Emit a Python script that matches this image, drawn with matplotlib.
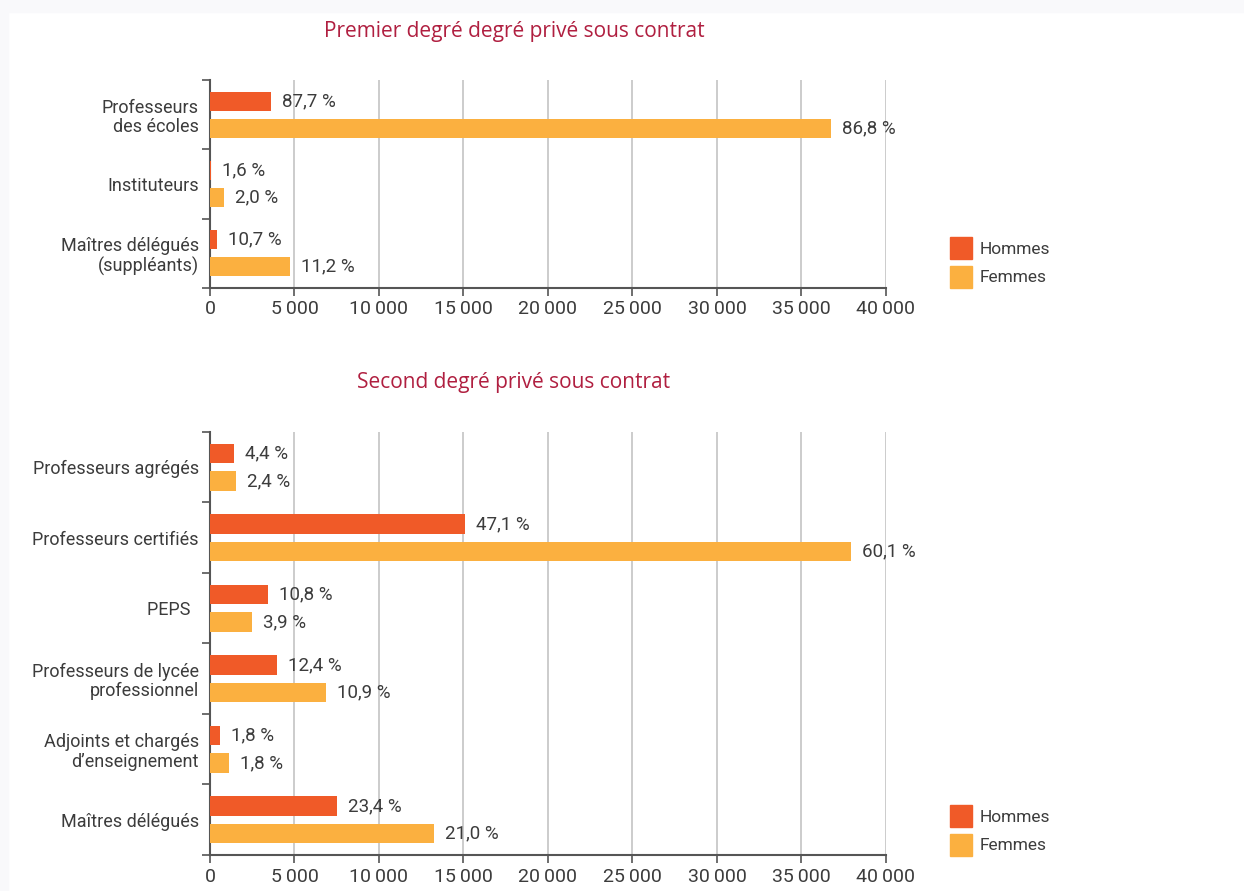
import matplotlib
matplotlib.use('Agg')
from matplotlib import pyplot as plt
from matplotlib.patches import Rectangle
from matplotlib.ticker import FuncFormatter

# --- data ---
cats_1 = ['Professeurs\ndes écoles', 'Instituteurs', 'Maîtres délégués\n(suppléants)']
hommes_1 = [3615, 66, 441]
femmes_1 = [36740, 847, 4740]
pct_h_1 = ['87,7 %', '1,6 %', '10,7 %']
pct_f_1 = ['86,8 %', '2,0 %', '11,2 %']

cats_2 = ['Professeurs agrégés', 'Professeurs certifiés', 'PEPS  ',
          'Professeurs de lycée\nprofessionnel', 'Adjoints et chargés\nd\u2019enseignement',
          'Maîtres délégués']
hommes_2 = [1410, 15090, 3460, 3970, 580, 7500]
femmes_2 = [1515, 37930, 2460, 6880, 1135, 13250]
pct_h_2 = ['4,4 %', '47,1 %', '10,8 %', '12,4 %', '1,8 %', '23,4 %']
pct_f_2 = ['2,4 %', '60,1 %', '3,9 %', '10,9 %', '1,8 %', '21,0 %']

titles = ['Premier degré degré privé sous contrat', 'Second degré privé sous contrat']
xticks = [0, 5000, 10000, 15000, 20000, 25000, 30000, 35000, 40000]

C_H = '#f05a28'
C_F = '#fbb040'
TXT = '#3c3c3c'
AX = '#555555'
TITLE = '#b01f40'
plt.rcParams['font.family'] = ['Roboto', 'DejaVu Sans']

fig = plt.figure(figsize=(12.44, 8.91), dpi=100)
fig.patch.set_facecolor('white')
# faint page edge
fig.patches.append(Rectangle((0, 0), 8 / 1244, 1, transform=fig.transFigure,
                             color='#f9f9fb', zorder=-5))
fig.patches.append(Rectangle((0, 1 - 12 / 891), 1, 12 / 891, transform=fig.transFigure,
                             color='#f9f9fb', zorder=-5))

ax1 = fig.add_axes([0.1688, 0.6768, 0.5434, 0.2334])
ax2 = fig.add_axes([0.1688, 0.0404, 0.5434, 0.4748])


def draw(ax, cats, hom, fem, ph, pf):
    n = len(cats)
    ys = list(range(n))
    h = 0.275
    off = 0.195
    ax.barh([y - off for y in ys], hom, height=h, color=C_H, zorder=3)
    ax.barh([y + off for y in ys], fem, height=h, color=C_F, zorder=3)
    for y, v, t in zip(ys, hom, ph):
        ax.text(v + 650, y - off, t, va='center', ha='left', fontsize=13.5, color=TXT)
    for y, v, t in zip(ys, fem, pf):
        ax.text(v + 650, y + off, t, va='center', ha='left', fontsize=13.5, color=TXT)
    ax.set_ylim(n - 0.5, -0.5)
    ax.set_xlim(0, 40000)
    ax.set_yticks(ys)
    ax.set_yticklabels(cats, fontsize=13, color=TXT, linespacing=1.1)
    ax.tick_params(axis='y', length=0, pad=8)
    ax.set_yticks([y - 0.5 for y in range(n + 1)], minor=True)
    ax.tick_params(axis='y', which='minor', length=6, width=1.2, color=AX)
    ax.set_xticks(xticks)
    ax.xaxis.set_major_formatter(FuncFormatter(lambda v, p: f'{int(v):,}'.replace(',', '\u2009') if v else '0'))
    ax.tick_params(axis='x', length=6, width=1.2, color=AX, labelsize=14, labelcolor=TXT, pad=3)
    ax.grid(axis='x', color='#c4c4c4', linewidth=1.2, zorder=0)
    for s in ['top', 'right']:
        ax.spines[s].set_visible(False)
    for s in ['left', 'bottom']:
        ax.spines[s].set_color(AX)
        ax.spines[s].set_linewidth(1.5)


draw(ax1, cats_1, hommes_1, femmes_1, pct_h_1, pct_f_1)
draw(ax2, cats_2, hommes_2, femmes_2, pct_h_2, pct_f_2)

fig.text(514 / 1244, 1 - 31 / 891, titles[0], ha='center', va='center', fontsize=15,
         color=TITLE, family=['Open Sans', 'DejaVu Sans'])
fig.text(514 / 1244, 1 - 382 / 891, titles[1], ha='center', va='center', fontsize=15,
         color=TITLE, family=['Open Sans', 'DejaVu Sans'])

# legends
for ytop in [237, 805]:
    for i, (c, lab) in enumerate([(C_H, 'Hommes'), (C_F, 'Femmes')]):
        y0 = ytop + i * 29
        fig.patches.append(Rectangle((950 / 1244, 1 - (y0 + 22) / 891), 22 / 1244, 22 / 891,
                                     transform=fig.transFigure, color=c))
        fig.text(980 / 1244, 1 - (y0 + 12) / 891, lab, ha='left', va='center',
                 fontsize=12.5, color=TXT)

fig.savefig('out.png', dpi=100)
